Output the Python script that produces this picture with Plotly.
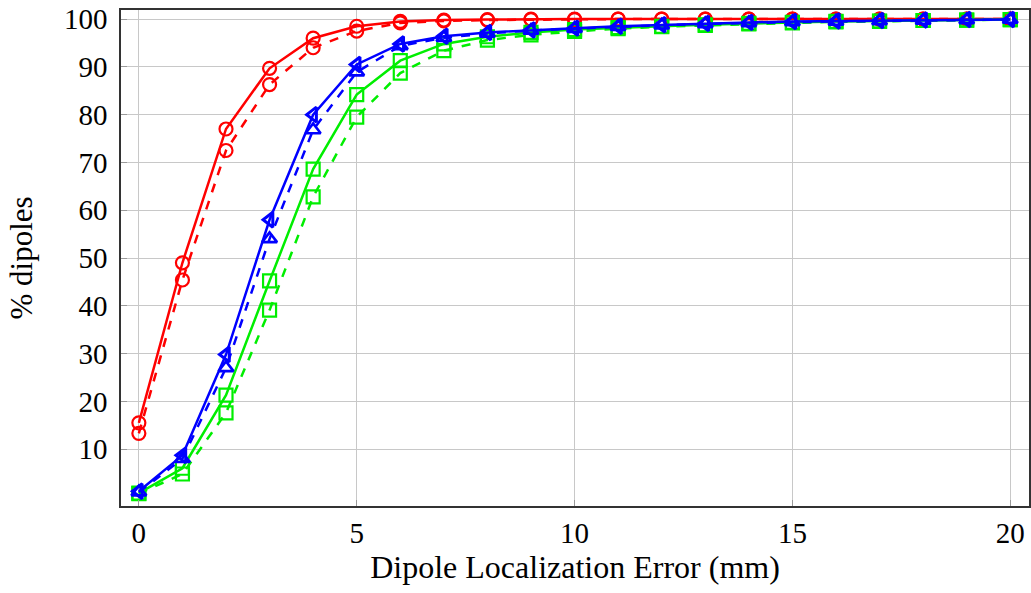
import plotly.graph_objects as go

x = list(range(0, 21))

red_solid = [15.5, 49.0, 77.0, 89.7, 96.0, 98.5, 99.5, 99.8, 99.9, 100, 100, 100, 100, 100, 100, 100, 100, 100, 100, 100, 100]
red_dashed = [13.3, 45.4, 72.5, 86.3, 94.0, 97.5, 99.2, 99.6, 99.8, 99.9, 99.9, 100, 100, 100, 100, 100, 100, 100, 100, 100, 100]
blue_solid = [1.2, 8.7, 29.8, 58.0, 80.0, 90.5, 94.8, 96.4, 97.2, 97.7, 98.1, 98.5, 98.8, 99.1, 99.3, 99.5, 99.6, 99.7, 99.8, 99.9, 99.9]
blue_dashed = [1.0, 8.0, 27.0, 54.0, 76.8, 88.9, 94.4, 96.1, 97.0, 97.6, 98.0, 98.4, 98.7, 99.0, 99.2, 99.4, 99.5, 99.6, 99.7, 99.8, 99.9]
green_solid = [0.8, 6.0, 21.3, 45.2, 68.6, 84.2, 91.3, 94.8, 96.3, 97.2, 97.8, 98.2, 98.5, 98.8, 99.1, 99.3, 99.5, 99.6, 99.7, 99.8, 99.9]
green_dashed = [0.7, 4.8, 17.6, 39.1, 62.8, 79.5, 88.7, 93.4, 95.6, 96.7, 97.4, 98.0, 98.4, 98.7, 99.0, 99.2, 99.4, 99.5, 99.7, 99.8, 99.9]

y_ticks = [10, 20, 30, 40, 50, 60, 70, 80, 90, 100]
x_ticks = [0, 5, 10, 15, 20]

series = [
    (red_solid, "#ff0000", "solid", "circle-open", 2.2),
    (red_dashed, "#ff0000", "dash", "circle-open", 2.2),
    (green_dashed, "#00ee00", "dash", "square-open", 2.2),
    (green_solid, "#00ee00", "solid", "square-open", 2.2),
    (blue_dashed, "#0000ff", "dash", "triangle-up-open", 2.6),
    (blue_solid, "#0000ff", "solid", "triangle-left-open", 3.0),
]

fig = go.Figure()
for ys, col, dash, sym, mlw in series:
    fig.add_trace(go.Scatter(
        x=x, y=ys, mode="lines+markers",
        line=dict(color=col, width=2.5, dash=dash),
        marker=dict(symbol=sym, size=13, color=col, line=dict(color=col, width=mlw)),
        showlegend=False,
    ))

font_family = "Liberation Serif, Times New Roman, serif"
fig.update_layout(
    width=1031, height=593,
    margin=dict(l=121, r=2, t=10, b=87, autoexpand=False),
    paper_bgcolor="white", plot_bgcolor="white",
    font=dict(family=font_family, size=29, color="black"),
    xaxis=dict(
        range=[-0.41, 20.43], tickvals=x_ticks, showgrid=True, gridcolor="#c8c8c8", gridwidth=1.2,
        showline=True, mirror=True, linecolor="#333333", linewidth=1.5,
        ticks="inside", ticklen=6, tickcolor="#999999", zeroline=False,
        title=dict(text="Dipole Localization Error (mm)", font=dict(size=32), standoff=7),
        tickfont=dict(size=29), ticklabelstandoff=0, ticklabeloverflow="allow",
    ),
    yaxis=dict(
        range=[-1.9, 101.9], tickvals=y_ticks, showgrid=True, gridcolor="#c8c8c8", gridwidth=1.2,
        showline=True, mirror=True, linecolor="#333333", linewidth=1.5,
        ticks="inside", ticklen=6, tickcolor="#999999", zeroline=False,
        title=dict(text="% dipoles", font=dict(size=31), standoff=22),
        tickfont=dict(size=29), ticklabelstandoff=6, ticklabeloverflow="allow",
    ),
)

fig.write_html("out.html", config={"displayModeBar": False},
               post_script="document.body.style.margin='0';")
